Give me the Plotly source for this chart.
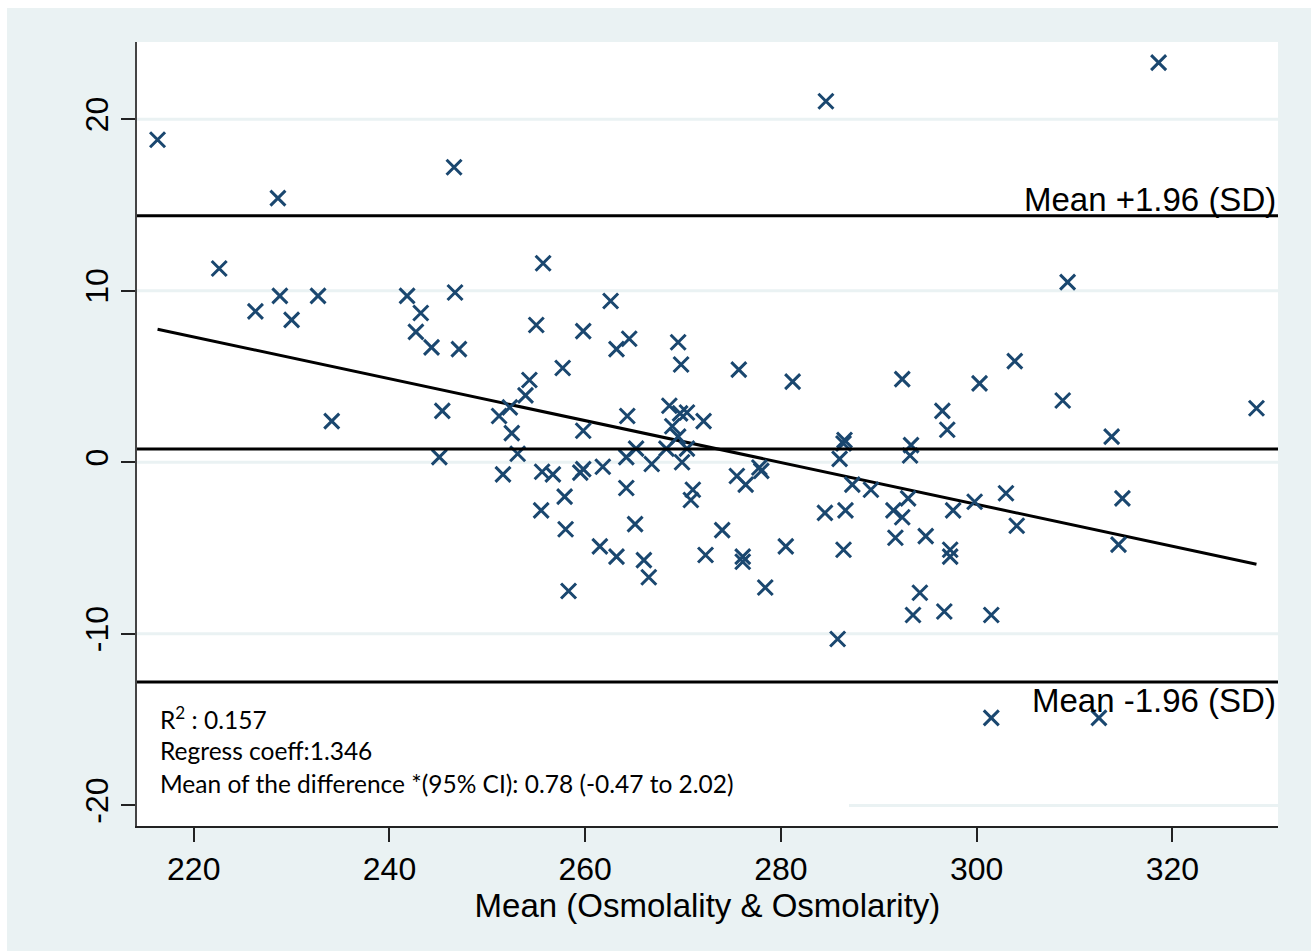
import plotly.graph_objects as go

# Bland-Altman data: mean of the two measurements vs. their difference
mean_x = [
    216.3, 228.6, 246.6, 222.6, 226.3, 228.8, 230.0, 232.7, 234.1, 241.8,
    243.2, 242.7, 244.3, 246.7, 247.1, 245.4, 245.1, 251.2, 251.6, 252.3,
    252.5, 253.1, 253.9, 254.3, 255.0, 255.7, 255.6, 255.5, 256.7, 257.7,
    257.9, 258.0, 258.3, 259.5, 259.8, 259.8, 259.8, 261.8, 261.5, 262.6,
    263.2, 263.2, 264.5, 264.3, 264.2, 264.2, 265.2, 265.1, 266.0, 266.5,
    266.8, 268.3, 268.6, 268.9, 269.5, 269.8, 269.7, 269.5, 269.9, 270.4,
    270.4, 271.0, 270.8, 272.1, 272.3, 274.0, 275.5, 275.7, 276.4, 276.1,
    276.1, 277.8, 278.0, 278.4, 280.5, 281.2, 284.6, 284.5, 285.8, 286.0,
    286.5, 286.4, 286.6, 286.4, 287.3, 289.2, 291.5, 291.7, 292.4, 292.4,
    293.0, 293.2, 293.3, 293.5, 294.2, 294.8, 296.5, 296.7, 297.0, 297.3,
    297.3, 297.6, 299.8, 300.3, 301.5, 301.5, 303.0, 303.9, 304.1, 308.8,
    309.3, 312.5, 313.8, 314.5, 314.9, 318.6, 328.6,
]
diff_y = [
    18.8, 15.4, 17.2, 11.3, 8.8, 9.7, 8.3, 9.7, 2.4, 9.7,
    8.7, 7.6, 6.7, 9.9, 6.6, 3.0, 0.3, 2.7, -0.7, 3.2,
    1.7, 0.5, 3.9, 4.8, 8.0, 11.6, -0.55, -2.8, -0.7, 5.5,
    -2.0, -3.9, -7.5, -0.6, -0.4, 7.65, 1.84, -0.26, -4.9, 9.4,
    6.6, -5.5, 7.2, 2.7, 0.3, -1.5, 0.8, -3.6, -5.7, -6.7,
    -0.1, 0.8, 3.3, 2.1, 7.0, 5.7, 2.85, 1.5, 0.0, 2.9,
    0.8, -1.6, -2.2, 2.4, -5.4, -3.95, -0.8, 5.4, -1.3, -5.5,
    -5.8, -0.3, -0.5, -7.3, -4.9, 4.7, 21.05, -2.95, -10.3, 0.2,
    1.3, 1.1, -2.8, -5.1, -1.3, -1.6, -2.8, -4.4, 4.85, -3.2,
    -2.1, 0.4, 1.0, -8.9, -7.6, -4.3, 3.0, -8.7, 1.9, -5.1,
    -5.5, -2.8, -2.3, 4.6, -8.9, -14.9, -1.8, 5.9, -3.7, 3.6,
    10.5, -14.9, 1.5, -4.8, -2.1, 23.3, 3.15,
]

# Summary statistics
mean_diff = 0.78
sd_diff = 6.935
reg_intercept = 34.15
reg_slope = -0.122

x_ticks = [220, 240, 260, 280, 300, 320]
y_ticks = [-20, -10, 0, 10, 20]

stats_lines = [
    "R<sup>2</sup> : 0.157",
    "Regress coeff:1.346",
    "Mean of the difference *(95% CI): 0.78 (-0.47 to 2.02)",
]

upper_loa = mean_diff + 1.96 * sd_diff
lower_loa = mean_diff - 1.96 * sd_diff

BG = "#eaf2f3"
NAVY = "#1a476f"
FONT = "Liberation Sans, Arial, sans-serif"

fig = go.Figure()

# fitted regression of difference on mean
fit_x = [min(mean_x), max(mean_x)]
fit_y = [reg_intercept + reg_slope * v for v in fit_x]
fig.add_trace(go.Scatter(
    x=fit_x, y=fit_y, mode="lines",
    line=dict(color="black", width=3), hoverinfo="skip", showlegend=False,
))

fig.add_trace(go.Scatter(
    x=mean_x, y=diff_y, mode="markers",
    marker=dict(symbol="x-thin", size=15, color=NAVY,
                line=dict(color=NAVY, width=3)),
    showlegend=False,
))

shapes = []
# horizontal grid lines
for yv in y_ticks:
    shapes.append(dict(type="line", xref="x domain", x0=0, x1=1, yref="y",
                       y0=yv, y1=yv, line=dict(color=BG, width=3),
                       layer="below"))
# white panel behind the statistics text (covers the grid)
shapes.append(dict(type="rect", xref="x domain", x0=0, x1=0.624,
                   yref="y domain", y0=0, y1=0.16, fillcolor="white",
                   line=dict(width=0), layer="below"))
# mean difference and limits of agreement
for yv in (mean_diff, upper_loa, lower_loa):
    shapes.append(dict(type="line", xref="x domain", x0=0, x1=1, yref="y",
                       y0=yv, y1=yv, line=dict(color="black", width=3),
                       layer="above"))
# thin white page border on the top and left edges
shapes.append(dict(type="rect", xref="paper", x0=-0.2, x1=1.1,
                   yref="paper", y0=1.0434, y1=1.1, fillcolor="white",
                   line=dict(width=0), layer="above"))
shapes.append(dict(type="rect", xref="paper", x0=-0.2, x1=-0.1139,
                   yref="paper", y0=-0.3, y1=1.1, fillcolor="white",
                   line=dict(width=0), layer="above"))

annotations = [
    dict(text="Mean +1.96 (SD)", xref="paper", x=1.0, xanchor="right",
         yref="y", y=upper_loa, yanchor="bottom", showarrow=False,
         font=dict(family=FONT, size=33, color="black"), yshift=-4),
    dict(text="Mean -1.96 (SD)", xref="paper", x=1.0, xanchor="right",
         yref="y", y=lower_loa, yanchor="top", showarrow=False,
         font=dict(family=FONT, size=33, color="black"), yshift=2),
]
stat_y = [0.1378, 0.0957, 0.0536]
for txt, yy in zip(stats_lines, stat_y):
    annotations.append(dict(
        text=txt, xref="paper", x=0.018, xanchor="left", yref="paper", y=yy,
        yanchor="middle", showarrow=False, align="left",
        font=dict(family="Lato, Carlito, sans-serif", size=24.5, color="black"),
    ))

fig.update_layout(
    width=1311, height=951,
    margin=dict(l=137, r=33, t=42, b=125),
    paper_bgcolor=BG, plot_bgcolor="white",
    shapes=shapes, annotations=annotations,
    font=dict(family=FONT, color="black"),
)

fig.update_xaxes(
    range=[214.2, 330.8], tickvals=x_ticks, ticktext=[str(v) for v in x_ticks],
    showgrid=False, zeroline=False,
    showline=True, linecolor="#222", linewidth=1.5,
    ticks="outside", ticklen=14, tickwidth=1.5, tickcolor="#222",
    tickfont=dict(family=FONT, size=32, color="black"),
    title=dict(text="Mean (Osmolality & Osmolarity)",
               font=dict(family=FONT, size=33, color="black"), standoff=6),
)
fig.update_yaxes(
    range=[-21.2, 24.5], tickvals=y_ticks, ticktext=[str(v) for v in y_ticks],
    showgrid=False, zeroline=False,
    showline=True, linecolor="#444", linewidth=1.5,
    ticks="outside", ticklen=14, tickwidth=1.5, tickcolor="#222",
    tickangle=-90,
    tickfont=dict(family=FONT, size=32, color="black"),
)

fig.write_html("out.html")
